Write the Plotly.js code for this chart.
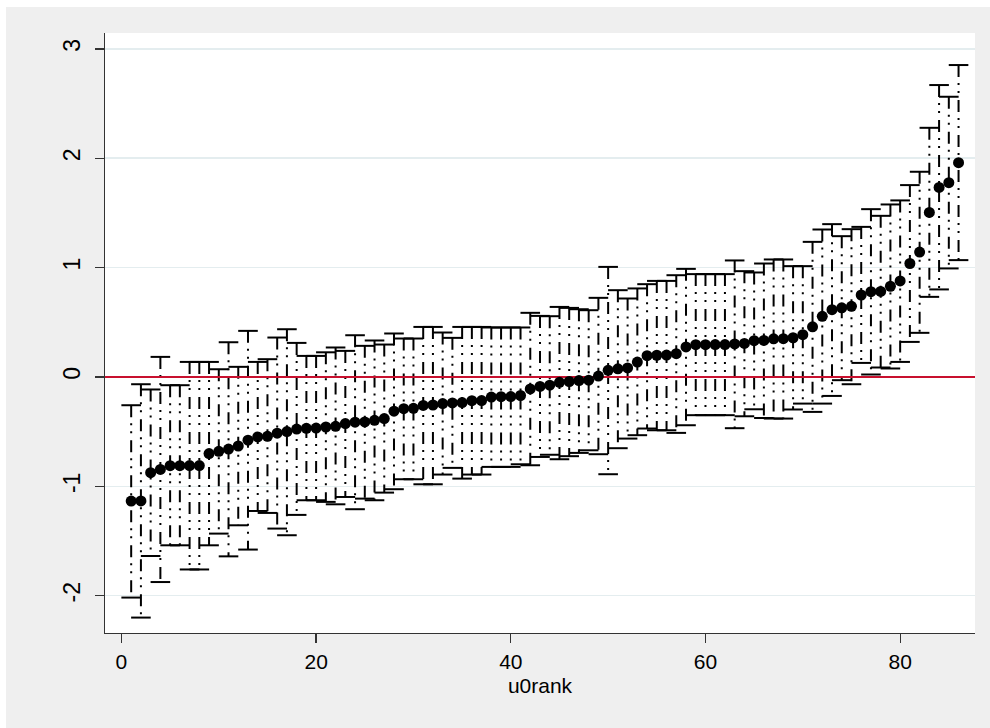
<!DOCTYPE html>
<html>
<head>
<meta charset="utf-8">
<script src="https://cdn.plot.ly/plotly-3.0.1.min.js"></script>
<style>
  html, body { margin: 0; padding: 0; background: #ffffff; }
  #chart { position: absolute; left: 6px; top: 7px; width: 984px; height: 721px; }
</style>
</head>
<body>
<div id="chart"></div>
<script>
// u0rank (rank of the level-2 residual)
const rank = [1,2,3,4,5,6,7,8,9,10,11,12,13,14,15,16,17,18,19,20,
  21,22,23,24,25,26,27,28,29,30,31,32,33,34,35,36,37,38,39,40,
  41,42,43,44,45,46,47,48,49,50,51,52,53,54,55,56,57,58,59,60,
  61,62,63,64,65,66,67,68,69,70,71,72,73,74,75,76,77,78,79,80,
  81,82,83,84,85,86];

// estimated residual u0
const u0 = [-1.136,-1.134,-0.876,-0.846,-0.812,-0.812,-0.811,-0.811,-0.701,-0.681,
  -0.660,-0.632,-0.579,-0.549,-0.543,-0.515,-0.500,-0.477,-0.470,-0.468,
  -0.458,-0.452,-0.427,-0.414,-0.412,-0.397,-0.381,-0.313,-0.291,-0.287,
  -0.261,-0.257,-0.244,-0.238,-0.235,-0.217,-0.216,-0.184,-0.181,-0.180,
  -0.170,-0.110,-0.087,-0.076,-0.050,-0.042,-0.034,-0.030,0.008,0.060,
  0.074,0.082,0.136,0.194,0.198,0.200,0.212,0.274,0.295,0.295,
  0.296,0.296,0.302,0.306,0.331,0.334,0.348,0.350,0.358,0.386,
  0.458,0.554,0.615,0.632,0.645,0.749,0.779,0.782,0.829,0.878,
  1.037,1.142,1.504,1.733,1.776,1.959];

// lower confidence limit
const lower = [-2.018,-2.201,-1.638,-1.876,-1.540,-1.540,-1.761,-1.761,-1.540,-1.433,
  -1.641,-1.357,-1.579,-1.226,-1.244,-1.387,-1.448,-1.262,-1.128,-1.128,
  -1.143,-1.165,-1.098,-1.210,-1.113,-1.128,-1.058,-1.027,-0.936,-0.936,
  -0.982,-0.982,-0.893,-0.832,-0.930,-0.893,-0.893,-0.823,-0.823,-0.823,
  -0.799,-0.808,-0.732,-0.712,-0.753,-0.725,-0.695,-0.671,-0.707,-0.890,
  -0.652,-0.564,-0.533,-0.472,-0.488,-0.488,-0.512,-0.442,-0.350,-0.350,
  -0.350,-0.350,-0.469,-0.360,-0.296,-0.376,-0.381,-0.381,-0.298,-0.244,
  -0.320,-0.244,-0.174,-0.030,-0.067,0.128,0.022,0.086,0.077,0.137,
  0.320,0.403,0.732,0.800,0.992,1.068];

// upper confidence limit
const upper = [-0.259,-0.067,-0.115,0.183,-0.076,-0.076,0.137,0.137,0.137,0.070,
  0.317,0.092,0.421,0.137,0.162,0.360,0.436,0.311,0.192,0.192,
  0.225,0.269,0.238,0.381,0.284,0.333,0.296,0.397,0.351,0.351,
  0.457,0.457,0.406,0.357,0.457,0.457,0.457,0.452,0.452,0.452,
  0.452,0.586,0.558,0.555,0.640,0.631,0.619,0.610,0.723,1.006,
  0.793,0.717,0.809,0.848,0.878,0.878,0.930,0.988,0.940,0.940,
  0.940,0.940,1.065,0.967,0.955,1.037,1.074,1.074,1.013,1.013,
  1.235,1.348,1.397,1.287,1.351,1.372,1.534,1.473,1.577,1.614,
  1.754,1.876,2.278,2.669,2.562,2.852];

const xTicks = [0, 20, 40, 60, 80];
const yTicks = [-2, -1, 0, 1, 2, 3];
const xRange = [-1.69, 87.69];
const yRange = [-2.342, 3.145];
const refLine = 0;

// build segment arrays for the confidence-interval spikes
const segX = [], segY = [];
rank.forEach((r, i) => { segX.push(r, r, null); segY.push(upper[i], lower[i], null); });

const traces = [
  {
    type: 'scatter', mode: 'lines', x: segX, y: segY,
    line: { color: '#000000', width: 2, dash: '12px,6px,2px,6px,2px,7px' },
    hoverinfo: 'skip', showlegend: false
  },
  {
    type: 'scatter', mode: 'markers', x: rank.concat(rank), y: lower.concat(upper),
    marker: { symbol: 'line-ew', size: 14, line: { color: '#000000', width: 2 } },
    hoverinfo: 'skip', showlegend: false
  },
  {
    type: 'scatter', mode: 'lines', x: xRange, y: [refLine, refLine],
    line: { color: '#c8102e', width: 2 }, hoverinfo: 'skip', showlegend: false
  },
  {
    type: 'scatter', mode: 'markers', x: rank, y: u0,
    marker: { symbol: 'circle', size: 11, color: '#000000' },
    showlegend: false
  }
];

const layout = {
  width: 984, height: 721,
  margin: { l: 99, r: 15, t: 26, b: 95 },
  paper_bgcolor: '#efefef',
  plot_bgcolor: '#ffffff',
  font: { family: 'Liberation Sans, Arial, sans-serif', color: '#000000' },
  showlegend: false,
  xaxis: {
    range: xRange,
    tickvals: xTicks, ticktext: xTicks.map(String),
    ticks: 'outside', ticklen: 9, tickwidth: 1.3, tickcolor: '#333333',
    showgrid: false, zeroline: false,
    showline: true, linecolor: '#333333', linewidth: 1.3,
    tickfont: { size: 21 },
    title: { text: 'u0rank', font: { size: 21 }, standoff: 6 }
  },
  yaxis: {
    range: yRange,
    tickvals: yTicks, ticktext: yTicks.map(String),
    ticks: 'outside', ticklen: 9, tickwidth: 1.3, tickcolor: '#333333',
    tickangle: -90,
    ticklabelstandoff: 6,
    showgrid: true, gridcolor: '#e4edef', gridwidth: 1.5,
    zeroline: false,
    showline: true, linecolor: '#333333', linewidth: 1.3,
    tickfont: { size: 23 }
  }
};

Plotly.newPlot('chart', traces, layout, { displayModeBar: false, staticPlot: true });
</script>
</body>
</html>
